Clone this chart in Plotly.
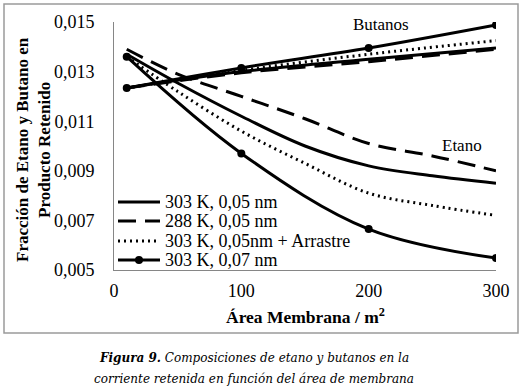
import plotly.graph_objects as go

# Area (m2)
x_smooth = [10, 50, 100, 150, 200, 250, 300]
x_pts = [10, 100, 200, 300]

# Etano
etano_303_005 = [0.0137, 0.01254, 0.0112, 0.0100, 0.0092, 0.0088, 0.0085]
etano_288_005 = [0.0139, 0.0129, 0.0120, 0.0111, 0.0101, 0.0096, 0.0090]
etano_303_005_arr = [0.0136, 0.0122, 0.0106, 0.0093, 0.0081, 0.0076, 0.0072]
etano_303_007 = [0.0136, 0.0097, 0.00665, 0.00548]

# Butanos
but_303_005 = [0.01234, 0.0130, 0.0135, 0.01395]
but_288_005 = [0.01234, 0.01295, 0.0134, 0.0139]
but_303_005_arr = [0.01234, 0.01305, 0.0137, 0.01425]
but_303_007 = [0.01234, 0.01315, 0.01395, 0.01488]

names = ["303 K, 0,05 nm", "288 K, 0,05 nm", "303 K, 0,05nm + Arrastre", "303 K, 0,07 nm"]

y_ticks = [0.005, 0.007, 0.009, 0.011, 0.013, 0.015]
x_ticks = [0, 100, 200, 300]

FONT = "Liberation Serif"
fig = go.Figure()

styles = [
    dict(color="black", width=3, dash="solid"),
    dict(color="black", width=3, dash="18px,9px"),
    dict(color="black", width=3, dash="2px,4px"),
    dict(color="black", width=3, dash="solid"),
]

series = [
    (x_smooth, etano_303_005, x_pts, but_303_005, "lines"),
    (x_smooth, etano_288_005, x_pts, but_288_005, "lines"),
    (x_smooth, etano_303_005_arr, x_pts, but_303_005_arr, "lines"),
    (x_pts, etano_303_007, x_pts, but_303_007, "lines+markers"),
]

for i, (xe, ye, xb, yb, mode) in enumerate(series):
    fig.add_trace(go.Scatter(x=xe, y=ye, mode=mode, name=names[i] + " (Etano)", showlegend=False,
                             line=dict(shape="spline", smoothing=1.0, **styles[i]),
                             marker=dict(size=8, color="black")))
    fig.add_trace(go.Scatter(x=xb, y=yb, mode=mode, name=names[i] + " (Butanos)", showlegend=False,
                             line=dict(shape="spline", smoothing=1.0, **styles[i]),
                             marker=dict(size=8, color="black")))

L, R, T, B = 114, 26, 22, 122
W, H = 522, 392
pw, ph = W - L - R, H - T - B

def px_to_paper_x(px):
    return (px - L) / pw

def px_to_paper_y(py):
    return (H - B - py) / ph

def ann(px, py, text, size=17, family=FONT, **kw):
    fig.add_annotation(x=px_to_paper_x(px), y=px_to_paper_y(py), xref="paper", yref="paper",
                       text=text, showarrow=False,
                       xanchor=kw.pop("xanchor", "center"), yanchor=kw.pop("yanchor", "middle"),
                       font=dict(family=family, size=size, color="black"), **kw)

fig.add_shape(type="rect", xref="paper", yref="paper",
              x0=px_to_paper_x(4), x1=px_to_paper_x(518),
              y0=px_to_paper_y(333), y1=px_to_paper_y(4),
              line=dict(color="#9a9a9a", width=1.5), layer="below")

ann(381, 25, "Butanos")
ann(462, 145, "Etano")

# Y axis title (two lines)
ann(33, 150, "<b>Fracción de Etano y Butano en<br>Producto Retenido</b>", size=17, textangle=-90)
# X axis title
ann(305, 316, "<b>Área Membrana / m<sup>2</sup></b>", size=17.5)
# Caption
ann(254, 358, "<b><i>Figura 9.</i></b><i> Composiciones de etano y butanos en la</i>",
    size=12, family="DejaVu Serif")
ann(254, 379, "<i>corriente retenida en función del área de membrana</i>",
    size=12, family="DejaVu Serif")

# Legend (drawn manually to match compact row spacing)
leg_rows = [202, 221, 241, 260]
leg_dash = ["solid", "18px,9px", "2px,4px", "solid"]
for i, name in enumerate(names):
    yy = px_to_paper_y(leg_rows[i])
    fig.add_shape(type="line", xref="paper", yref="paper",
                  x0=px_to_paper_x(118), x1=px_to_paper_x(160), y0=yy, y1=yy,
                  line=dict(color="black", width=3, dash=leg_dash[i]))
    ann(163, leg_rows[i], name, size=18, xanchor="left")
fig.add_shape(type="circle", xref="paper", yref="paper",
              x0=px_to_paper_x(135), x1=px_to_paper_x(143),
              y0=px_to_paper_y(264), y1=px_to_paper_y(256),
              fillcolor="black", line=dict(color="black", width=0))

fig.update_layout(
    width=W, height=H,
    margin=dict(l=L, r=R, t=T, b=B, pad=0),
    paper_bgcolor="white", plot_bgcolor="white",
    separators=", ",
    font=dict(family=FONT, size=18, color="black"),
    showlegend=False,
    xaxis=dict(range=[0, 300], tickvals=x_ticks, showgrid=False, zeroline=False,
               showline=True, linecolor="#868686", linewidth=1, ticks="",
               ticklabelstandoff=4,
               tickfont=dict(family=FONT, size=18, color="black")),
    yaxis=dict(range=[0.005, 0.015], tickvals=y_ticks, tickformat=".3f", showgrid=False,
               zeroline=False, showline=True, linecolor="#868686", linewidth=1, ticks="",
               ticklabelstandoff=15,
               tickfont=dict(family=FONT, size=18, color="black")),
)

fig.write_html("out.html", config={"displayModeBar": False},
               post_script="document.body.style.margin='0px';document.body.style.overflow='hidden';")
